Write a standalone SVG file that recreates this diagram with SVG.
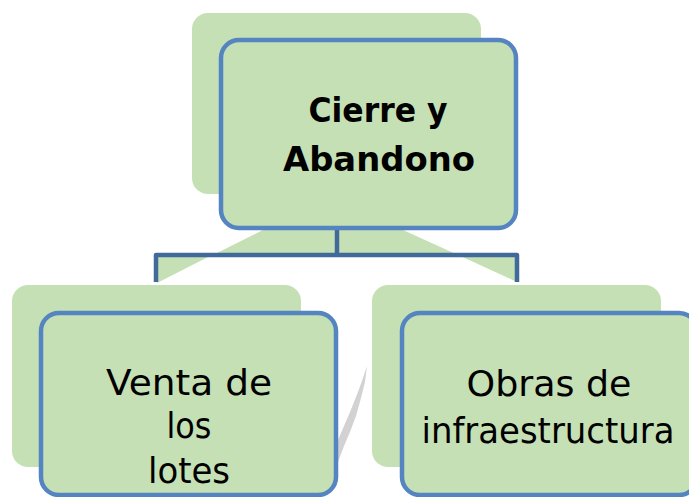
<svg xmlns="http://www.w3.org/2000/svg" width="689" height="497" viewBox="0 0 689 497">
<style>
.back{fill:#c5e0b4;stroke:none}
.front{fill:#c5e0b4;stroke:#5585c0;stroke-width:4.5}
.ribbon{fill:#c5e0b4;stroke:none}
.conn{fill:none;stroke:#41699a;stroke-width:4.5;stroke-linejoin:round}
.t{font-family:"DejaVu Sans","Liberation Sans",sans-serif;fill:#000;text-anchor:middle}
.tb{font-size:33px;font-weight:bold}
.tr{font-size:36px}
</style>
<rect width="689" height="497" fill="#ffffff"/>
<g id="ribbons">
<polygon class="ribbon" points="263,230 403,230 458,255 213,255"/>
<polygon class="ribbon" points="156,254 214,254 157,283"/>
<polygon class="ribbon" points="456,254 517,254 517,282"/>
</g>
<path d="M367,366 L363,378 L358,392 L350,412 L344,426 L338,440 L336,455 L338,462 L344,446 L350,432 L356,416 L361,398 L365,382 Z" fill="#d2d2d2"/>
<g id="connectors">
<path class="conn" d="M337,230 L337,255"/>
<path class="conn" d="M156,282 L156,255 L517,255 L517,282"/>
</g>
<g id="node-top">
<rect class="back" x="192" y="13" width="289" height="181" rx="16"/>
<rect class="front" x="221" y="40" width="295" height="188" rx="18"/>
<text class="t tb" x="378" y="122" textLength="139" lengthAdjust="spacingAndGlyphs">Cierre y</text>
<text class="t tb" x="379" y="171" textLength="192" lengthAdjust="spacingAndGlyphs">Abandono</text>
</g>
<g id="node-left">
<rect class="back" x="12" y="285" width="289" height="182" rx="16"/>
<rect class="front" x="41" y="313" width="295" height="182" rx="18"/>
<text class="t tr" x="189" y="395" textLength="166" lengthAdjust="spacingAndGlyphs">Venta de</text>
<text class="t tr" x="189" y="438" textLength="45" lengthAdjust="spacingAndGlyphs">los</text>
<text class="t tr" x="189" y="483" textLength="82" lengthAdjust="spacingAndGlyphs">lotes</text>
</g>
<g id="node-right">
<rect class="back" x="372" y="285" width="289" height="182" rx="16"/>
<rect class="front" x="402" y="313" width="295" height="182" rx="18"/>
<text class="t tr" x="549" y="396" textLength="165" lengthAdjust="spacingAndGlyphs">Obras de</text>
<text class="t tr" x="548" y="443" textLength="253" lengthAdjust="spacingAndGlyphs">infraestructura</text>
</g>
</svg>
